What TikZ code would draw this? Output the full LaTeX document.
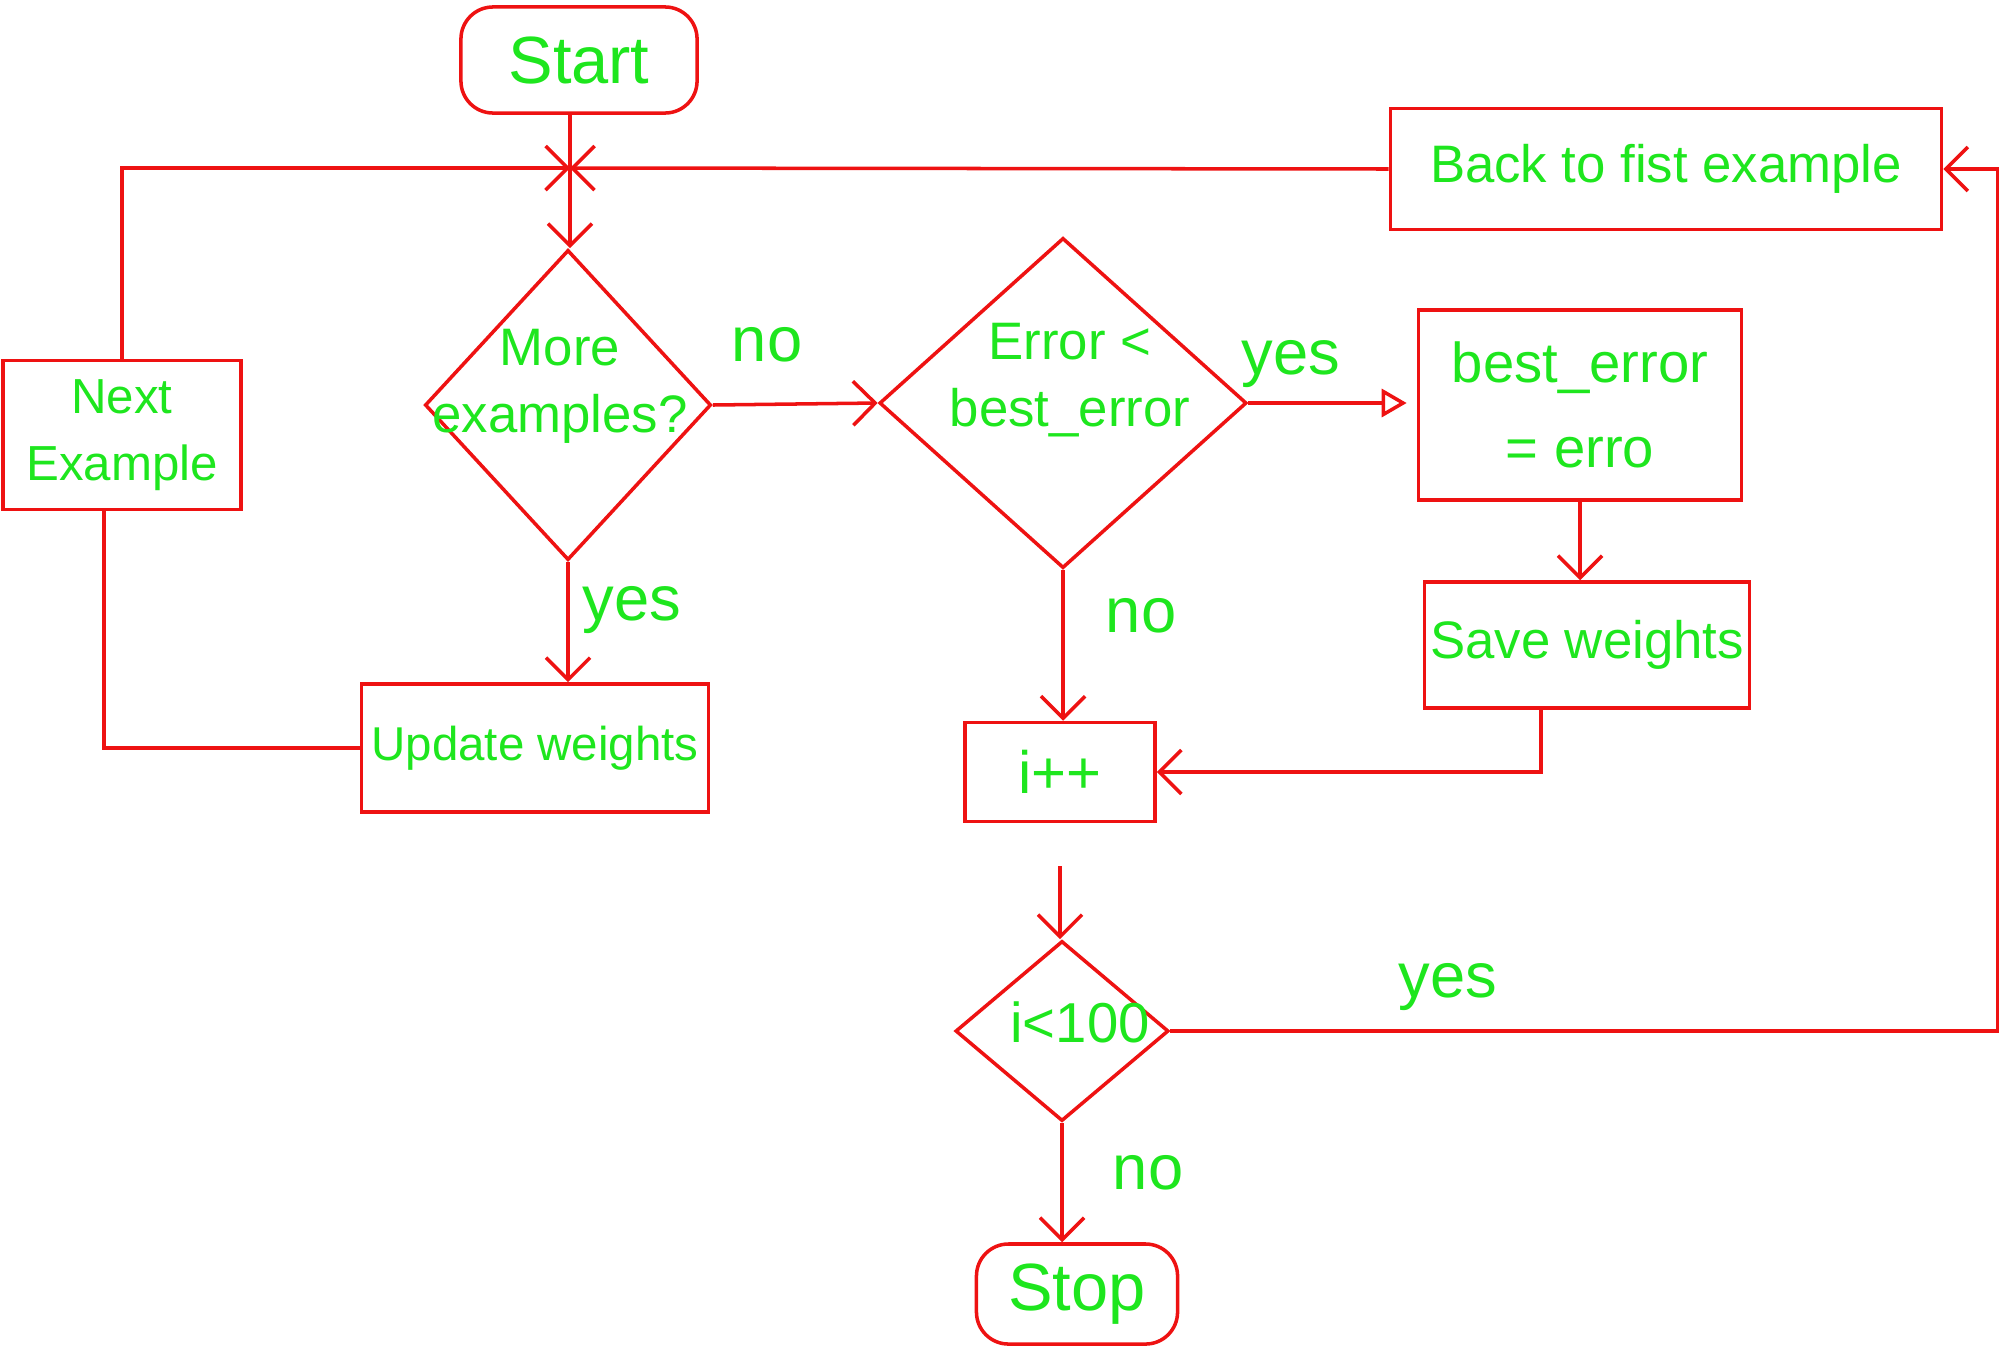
\documentclass[tikz,border=0pt]{standalone}
\usepackage{fontspec}
\setmainfont{Liberation Sans}
\usetikzlibrary{shapes.geometric,arrows.meta}
\definecolor{inkred}{RGB}{238,18,18}
\definecolor{inkgreen}{RGB}{30,230,30}
\begin{document}
\begin{tikzpicture}[x=0.01cm, y=-0.01cm, line width=1pt, inkred,
    txt/.style={text=inkgreen, font=\fontsize{15}{19}\selectfont, align=center, inner sep=0pt},
    lbl/.style={txt, font=\fontsize{18}{20}\selectfont},
    box/.style={draw, rectangle, txt},
    term/.style={box, rounded corners=0.32cm, font=\fontsize{19}{22}\selectfont},
    dec/.style={draw, diamond, inner sep=0pt},
    arr/.style={-{Straight Barb[length=2.2mm,width=4.4mm]}}]
    \useasboundingbox (0,0) rectangle (2004,1348);

    % boxes
    \node[term, minimum width=2.36cm, minimum height=1.06cm] (start) at (579,60) {Start};
    \coordinate (junc) at (570,168);
    \node[box, minimum width=5.51cm, minimum height=1.21cm] (back) at (1666,169) {Back to fist example};
    \node[box, minimum width=2.38cm, minimum height=1.49cm, font=\fontsize{14}{19}\selectfont] (next) at (122,435) {Next\\Example};
    \node[box, minimum width=3.47cm, minimum height=1.28cm, font=\fontsize{13.5}{16}\selectfont] (update) at (535,748) {Update weights};
    \node[box, minimum width=3.23cm, minimum height=1.90cm, font=\fontsize{16}{24}\selectfont] (best) at (1580,405) {best\_error\\= erro};
    \node[box, minimum width=3.25cm, minimum height=1.26cm] (save) at (1587,645) {Save weights};
    \node[box, minimum width=1.90cm, minimum height=0.99cm, font=\fontsize{17}{20}\selectfont] (inc) at (1060,772) {i++};
    \node[term, minimum width=2.01cm, minimum height=1.00cm] (stop) at (1077,1294) {Stop};

    % decisions
    \node[dec, minimum width=2.86cm, minimum height=3.10cm] (more) at (568,405) {};
    \node[txt] (moretxt) at (560,386) {More\\examples?};
    \node[dec, minimum width=3.67cm, minimum height=3.30cm] (err) at (1063,403) {};
    \node[txt] (errtxt) at (1070,380) {Error <\\best\_error};
    \node[dec, minimum width=2.13cm, minimum height=1.80cm] (cond) at (1062,1031) {};
    \node[txt, font=\fontsize{16}{19}\selectfont] (condtxt) at (1080,1022) {i<100};

    % branch labels
    \node[lbl] (nomore) at (767,345) {no};
    \node[lbl] (yesmore) at (632,610) {yes};
    \node[lbl] (yeserr) at (1291,364) {yes};
    \node[lbl] (noerr) at (1141,616) {no};
    \node[lbl] (yescond) at (1448,987) {yes};
    \node[lbl] (nocond) at (1148,1173) {no};

    % connectors
    \draw (start.south -| junc) -- (junc);
    \draw[arr] (junc) -- (junc |- more.north);
    \draw[arr] (next.north) |- (junc);
    \draw[arr] (back.west) -- (junc);
    \draw (update.west) -| ([xshift=-0.18cm]next.south);
    \draw[arr] (more.south) -- (more.south |- update.north);
    \draw[arr] (more.east) -- (err.west);
    \draw[-{Triangle[open,length=2.5mm,width=2.8mm]}, shorten >=1mm] (err.east) -- (err.east -| best.west);
    \draw[arr] (best.south) -- (best.south |- save.north);
    \draw[arr] (err.south) -- (err.south |- inc.north);
    \draw[arr] ([xshift=-0.46cm]save.south) |- (inc.east);
    \draw[arr, shorten <=0.43cm] (inc.south) -- (inc.south |- cond.north);
    \draw[arr] (cond.south) -- (cond.south |- stop.north);
    \draw[arr] (cond.east) -| ([xshift=0.54cm]back.east) -- (back.east);
\end{tikzpicture}
\end{document}
